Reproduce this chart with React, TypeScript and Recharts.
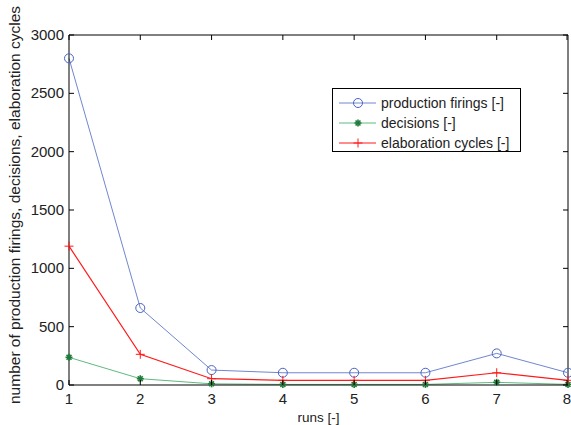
import { LineChart, Line, XAxis, YAxis, ReferenceLine } from "recharts";

const runs = [1, 2, 3, 4, 5, 6, 7, 8];
const productionFirings = [2800, 660, 128, 105, 105, 105, 271, 105];
const decisions = [237, 54, 10, 5, 5, 5, 23, 5];
const elaborationCycles = [1190, 263, 54, 40, 40, 40, 105, 40];
const xTicks = [1, 2, 3, 4, 5, 6, 7, 8];
const yTicks = [0, 500, 1000, 1500, 2000, 2500, 3000];

const FONT = "Arial, 'Liberation Sans', Helvetica, sans-serif";
const BLUE = "#4a63c4";
const BLUE_LINE = "#7086d0";
const GREEN = "#1f7a3a";
const GREEN_LINE = "#5dbb80";
const RED = "#ff1a1a";

const CHART_W = 571;
const CHART_H = 425;
const Y_AXIS_W = 69;
const RIGHT_M = 3;
const PLOT_W = CHART_W - Y_AXIS_W - RIGHT_M;

const data = runs.map((r, i) => ({
  run: r,
  production: productionFirings[i],
  decisions: decisions[i],
  elaboration: elaborationCycles[i],
}));

// matlab style: ticks point into the plot
const BottomTick = (props: any) => {
  const { x, y, payload } = props;
  return (
    <g>
      <line x1={x} y1={y} x2={x} y2={y - 5} stroke="#000" />
      <text x={x} y={y + 19} textAnchor="middle" fontSize={15} fontFamily={FONT} fill="#222">
        {payload.value}
      </text>
    </g>
  );
};

const TopTick = (props: any) => {
  const { x, y } = props;
  return <line x1={x} y1={y} x2={x} y2={y + 5} stroke="#000" />;
};

// left tick + its mirror on the right edge of the box
const LeftTick = (props: any) => {
  const { x, y, payload } = props;
  return (
    <g>
      <line x1={x} y1={y} x2={x + 5} y2={y} stroke="#000" />
      <line x1={x + PLOT_W} y1={y} x2={x + PLOT_W - 5} y2={y} stroke="#000" />
      <text x={x - 5} y={y + 5} textAnchor="end" fontSize={15} fontFamily={FONT} fill="#222">
        {payload.value}
      </text>
    </g>
  );
};

const CircleDot = (props: any) => {
  const { cx, cy } = props;
  return <circle cx={cx} cy={cy} r={4.5} fill="none" stroke={BLUE} strokeWidth={1} />;
};

const StarDot = (props: any) => {
  const { cx, cy } = props;
  const r = 3.5;
  return (
    <g stroke={GREEN} strokeWidth={1.6}>
      <line x1={cx - r} y1={cy} x2={cx + r} y2={cy} />
      <line x1={cx} y1={cy - r} x2={cx} y2={cy + r} />
      <line x1={cx - r * 0.7} y1={cy - r * 0.7} x2={cx + r * 0.7} y2={cy + r * 0.7} />
      <line x1={cx - r * 0.7} y1={cy + r * 0.7} x2={cx + r * 0.7} y2={cy - r * 0.7} />
    </g>
  );
};

const PlusDot = (props: any) => {
  const { cx, cy } = props;
  const r = 4.5;
  return (
    <g stroke={RED} strokeWidth={1}>
      <line x1={cx - r} y1={cy} x2={cx + r} y2={cy} />
      <line x1={cx} y1={cy - r} x2={cx} y2={cy + r} />
    </g>
  );
};

const legendItems = [
  { label: "production firings [-]", color: BLUE_LINE, Dot: CircleDot },
  { label: "decisions [-]", color: GREEN_LINE, Dot: StarDot },
  { label: "elaboration cycles [-]", color: RED, Dot: PlusDot },
];

const App = () => {
  return (
    <div style={{ position: "absolute", left: 0, top: 0, width: CHART_W, height: CHART_H, background: "#fff", overflow: "hidden" }}>
      <LineChart
        width={CHART_W}
        height={CHART_H}
        data={data}
        margin={{ top: 35, right: RIGHT_M, bottom: 0, left: 0 }}
      >
        <XAxis
          dataKey="run"
          type="number"
          domain={[1, 8]}
          ticks={xTicks}
          height={40}
          tickSize={0}
          tickMargin={0}
          tickLine={false}
          axisLine={{ stroke: "#000" }}
          tick={<BottomTick />}
          label={{ value: "runs [-]", position: "insideBottom", offset: 3, fontSize: 13.5, fontFamily: FONT, fill: "#222" }}
        />
        <XAxis
          xAxisId="top"
          dataKey="run"
          type="number"
          orientation="top"
          mirror
          domain={[1, 8]}
          ticks={xTicks}
          tickSize={0}
          tickMargin={0}
          tickLine={false}
          tick={<TopTick />}
          axisLine={{ stroke: "#000" }}
        />
        <YAxis
          type="number"
          domain={[0, 3000]}
          ticks={yTicks}
          width={Y_AXIS_W}
          tickSize={0}
          tickMargin={0}
          tickLine={false}
          axisLine={{ stroke: "#000" }}
          tick={<LeftTick />}
          label={{
            value: "number of production firings, decisions, elaboration cycles",
            angle: -90,
            position: "insideLeft",
            offset: 14,
            dy: -5,
            fontSize: 15.5,
            fontFamily: FONT,
            fill: "#222",
            style: { textAnchor: "middle" },
          }}
        />
        {/* right border of the box */}
        <ReferenceLine x={8} stroke="#000" strokeWidth={1} ifOverflow="visible" />
        <Line
          dataKey="production"
          stroke={BLUE_LINE}
          strokeWidth={1}
          dot={<CircleDot />}
          activeDot={false}
          isAnimationActive={false}
        />
        <Line
          dataKey="decisions"
          stroke={GREEN_LINE}
          strokeWidth={1}
          dot={<StarDot />}
          activeDot={false}
          isAnimationActive={false}
        />
        <Line
          dataKey="elaboration"
          stroke={RED}
          strokeWidth={1.2}
          dot={<PlusDot />}
          activeDot={false}
          isAnimationActive={false}
        />
      </LineChart>

      {/* Legend */}
      <div
        style={{
          position: "absolute",
          left: 332,
          top: 88,
          width: 187,
          height: 62,
          border: "1px solid #000",
          background: "#fff",
          fontFamily: FONT,
          fontSize: 14,
          color: "#222",
        }}
      >
        {legendItems.map((item, i) => (
          <div key={item.label} style={{ position: "absolute", left: 0, top: 4 + i * 20, height: 20, display: "flex", alignItems: "center" }}>
            <svg width={48} height={20}>
              <line x1={6} y1={10} x2={43} y2={10} stroke={item.color} strokeWidth={1} />
              <item.Dot cx={25} cy={10} />
            </svg>
            <span style={{ whiteSpace: "nowrap" }}>{item.label}</span>
          </div>
        ))}
      </div>
    </div>
  );
};

export default App;
